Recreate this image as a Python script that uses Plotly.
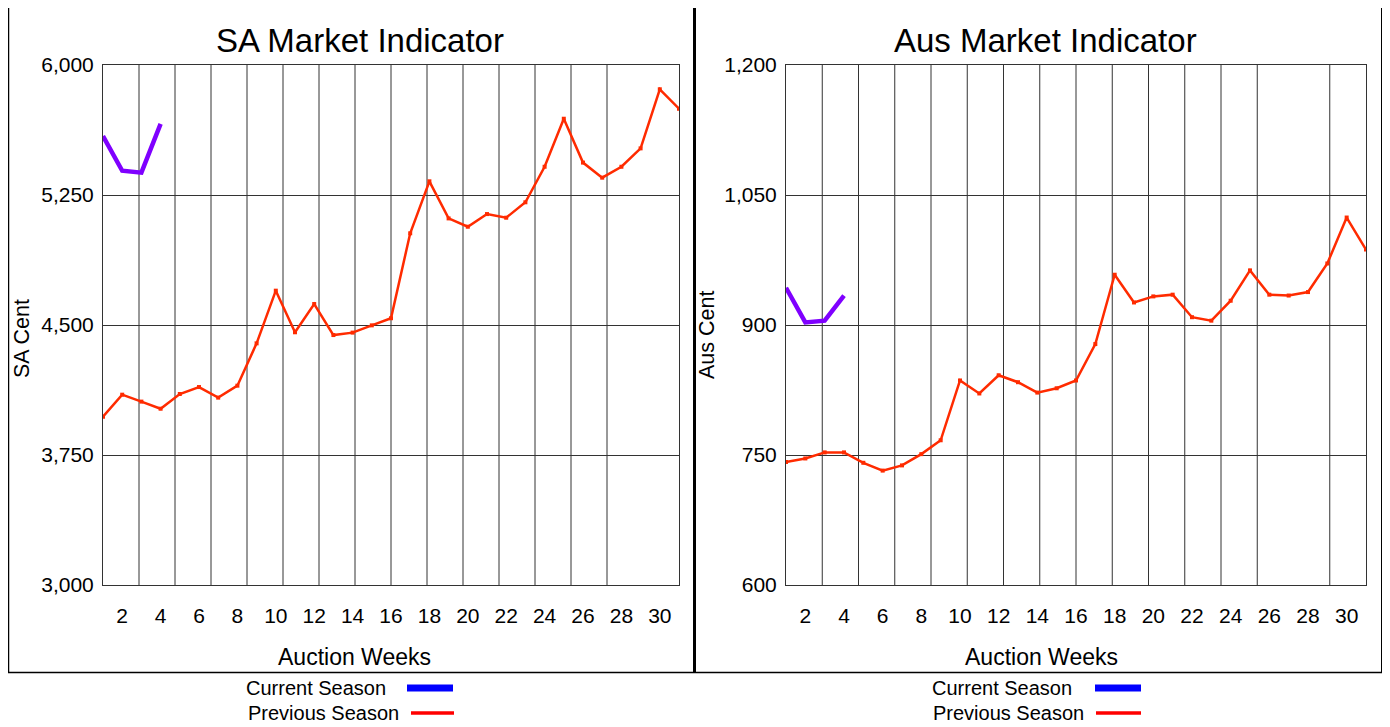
import plotly.graph_objects as go

# page body has an 8px margin, so the figure is placed at (8, 8)
OX, OY = 8, 8
W, H = 1390 - OX, 727 - OY

weeks_prev = list(range(1, 32))
weeks_curr = [1, 2, 3, 4]

sa_prev = [3971, 4098, 4058, 4017, 4102, 4142, 4081, 4150, 4394, 4698,
           4458, 4621, 4442, 4456, 4498, 4539, 5029, 5329, 5115, 5067,
           5140, 5119, 5208, 5413, 5690, 5437, 5350, 5413, 5519, 5860, 5748]
sa_curr = [5590, 5390, 5379, 5660]

aus_prev = [742, 746, 753, 753, 741, 732, 738, 751, 767, 836,
            821, 842, 834, 822, 827, 836, 878, 958, 926, 933,
            935, 909, 905, 928, 963, 935, 934, 938, 971, 1024, 987]
aus_curr = [943, 903, 905, 934]

x_ticks = list(range(2, 31, 2))
sa_range = [3000, 6000]
aus_range = [600, 1200]
sa_ticks = [3000, 3750, 4500, 5250, 6000]
aus_ticks = [600, 750, 900, 1050, 1200]

PREV_COLOR = "#FF2B00"
CURR_COLOR = "#7F00FF"
FONT = "Liberation Sans, Arial, sans-serif"


def px(x):
    return (x - OX) / W


def py(y):
    return 1 - (y - OY) / H


fig = go.Figure()

fig.add_trace(go.Scatter(x=weeks_prev, y=sa_prev, xaxis="x", yaxis="y", mode="lines+markers",
                         line=dict(color=PREV_COLOR, width=2.5),
                         marker=dict(symbol="square", size=4, color=PREV_COLOR),
                         showlegend=False, name="Previous Season"))
fig.add_trace(go.Scatter(x=weeks_curr, y=sa_curr, xaxis="x", yaxis="y", mode="lines",
                         line=dict(color=CURR_COLOR, width=4.5),
                         showlegend=False, name="Current Season"))
fig.add_trace(go.Scatter(x=weeks_prev, y=aus_prev, xaxis="x2", yaxis="y2", mode="lines+markers",
                         line=dict(color=PREV_COLOR, width=2.5),
                         marker=dict(symbol="square", size=4, color=PREV_COLOR),
                         showlegend=False, name="Previous Season"))
fig.add_trace(go.Scatter(x=weeks_curr, y=aus_curr, xaxis="x2", yaxis="y2", mode="lines",
                         line=dict(color=CURR_COLOR, width=4.5),
                         showlegend=False, name="Current Season"))

common_x = dict(range=[1, 31], tickvals=x_ticks, showgrid=False, zeroline=False,
                showline=True, mirror=True, linecolor="#333333", linewidth=1,
                ticks="", tickfont=dict(family=FONT, size=21, color="#000"),
                ticklabelstandoff=12, fixedrange=True, automargin=False)
common_y = dict(showgrid=True, gridcolor="#333333", gridwidth=1, zeroline=False,
                showline=True, mirror=True, linecolor="#333333", linewidth=1,
                ticks="", tickformat=",", tickfont=dict(family=FONT, size=21, color="#000"),
                ticklabelstandoff=4, fixedrange=True, automargin=False)

fig.update_layout(
    width=W, height=H,
    margin=dict(l=0, r=0, t=0, b=0, pad=0, autoexpand=False),
    paper_bgcolor="white", plot_bgcolor="white",
    showlegend=False,
    xaxis=dict(domain=[px(103), px(679)], anchor="y", **common_x),
    yaxis=dict(domain=[py(585), py(65)], anchor="x", range=sa_range, tickvals=sa_ticks, **common_y),
    xaxis2=dict(domain=[px(786), px(1366)], anchor="y2", **common_x),
    yaxis2=dict(domain=[py(585), py(65)], anchor="x2", range=aus_range, tickvals=aus_ticks, **common_y),
)

shapes = []
# vertical gridlines (every 1.875 weeks, one omitted near the right end as in the source)
for k in range(17):
    xv = 1 + k * 1.875
    if k not in (0, 15, 16):
        shapes.append(dict(type="line", xref="x", yref="y", x0=xv, x1=xv, y0=sa_range[0], y1=sa_range[1],
                           line=dict(color="#333333", width=1), layer="below"))
    if k not in (0, 14, 16):
        shapes.append(dict(type="line", xref="x2", yref="y2", x0=xv, x1=xv, y0=aus_range[0], y1=aus_range[1],
                           line=dict(color="#333333", width=1), layer="below"))

# frame lines
shapes += [
    dict(type="line", xref="paper", yref="paper", x0=px(8.5), x1=px(8.5), y0=1, y1=py(672),
         line=dict(color="#000", width=1.5)),
    dict(type="line", xref="paper", yref="paper", x0=px(694.5), x1=px(694.5), y0=1, y1=py(672),
         line=dict(color="#000", width=3)),
    dict(type="line", xref="paper", yref="paper", x0=px(1382), x1=px(1382), y0=1, y1=py(672),
         line=dict(color="#000", width=2)),
    dict(type="line", xref="paper", yref="paper", x0=0, x1=px(1384), y0=py(672.5), y1=py(672.5),
         line=dict(color="#000", width=1.5)),
]

# legend line samples
for (x0, x1, color, wdt, yy) in [
    (407, 453, "#0000FF", 7, 688), (411, 454, "#FF0000", 3.5, 713),
    (1095, 1141, "#0000FF", 7, 688), (1096, 1141, "#FF0000", 3.5, 713),
]:
    shapes.append(dict(type="line", xref="paper", yref="paper", x0=px(x0), x1=px(x1),
                       y0=py(yy), y1=py(yy), line=dict(color=color, width=wdt)))

fig.update_layout(shapes=shapes)

ann = []


def text(t, x, y, size, xanchor="center", angle=0):
    ann.append(dict(text=t, x=px(x), y=py(y), xref="paper", yref="paper", showarrow=False,
                    xanchor=xanchor, yanchor="middle", textangle=angle, borderpad=0,
                    font=dict(family=FONT, size=size, color="#000")))


text("SA Market Indicator", 360, 40, 33)
text("Aus Market Indicator", 1045, 40, 33)
text("Auction Weeks", 355, 657, 23)
text("Auction Weeks", 1041, 657, 23)
text("SA Cent", 22, 339, 21.5, angle=-90)
text("Aus Cent", 707, 335, 21.5, angle=-90)
text("Current Season", 245, 688, 20, xanchor="left")
text("Previous Season", 247, 713, 20, xanchor="left")
text("Current Season", 931, 688, 20, xanchor="left")
text("Previous Season", 932, 713, 20, xanchor="left")

fig.update_layout(annotations=ann)

fig.write_html("out.html")
